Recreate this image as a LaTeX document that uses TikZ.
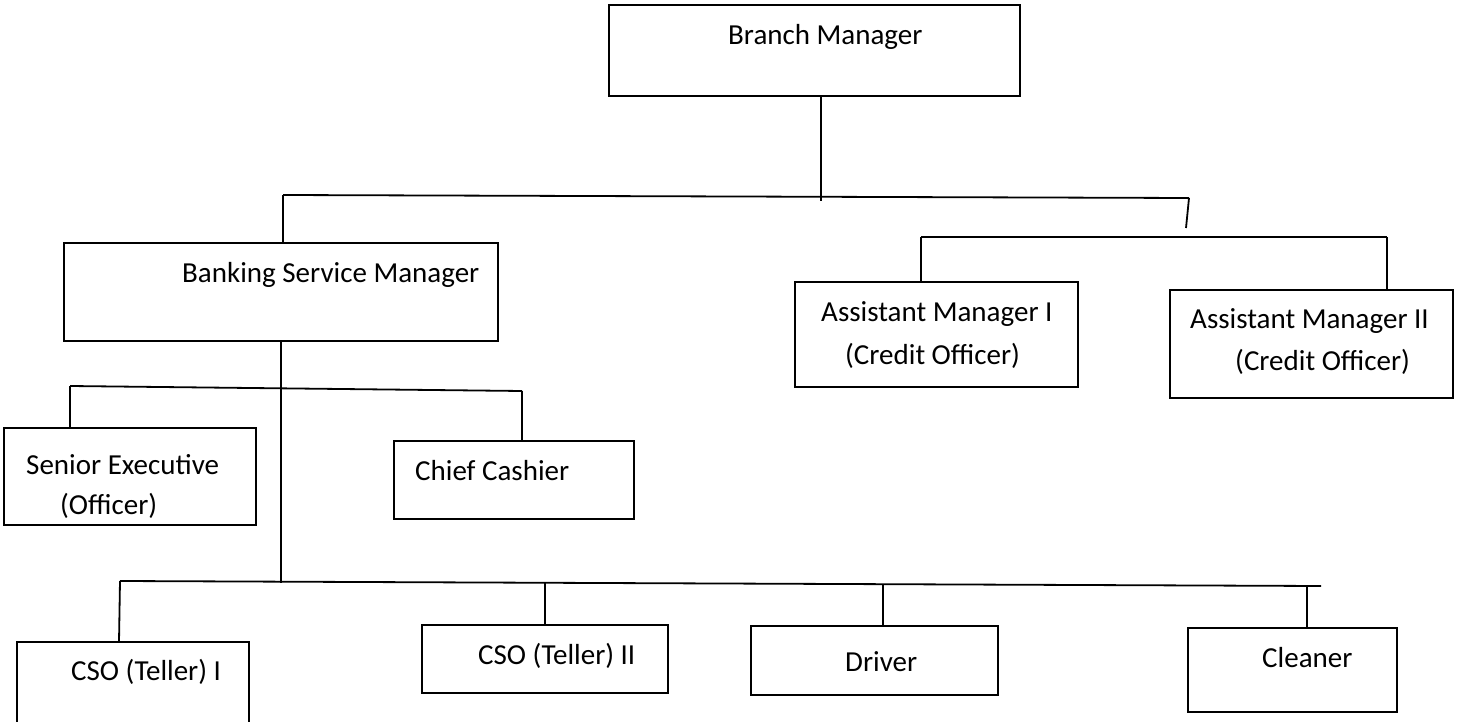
\documentclass[tikz,border=0pt]{standalone}
\usepackage{fontspec}
\setmainfont{Carlito}

\begin{document}
\begin{tikzpicture}[x=1pt, y=-1pt,
    box/.style={draw, line width=2pt, inner sep=0, outer sep=0},
    lbl/.style={anchor=base west, inner sep=0, font=\fontsize{29}{35}\selectfont},
    wire/.style={line width=1.8pt}]
    \useasboundingbox (0,0) rectangle (1459,722);

    % Branch Manager
    \node[box, minimum width=411pt, minimum height=91pt] (bm) at (814.5,50.5) {};
    \node[lbl] (bmtxt) at (728,45) {Branch Manager};

    % Banking Service Manager
    \node[box, minimum width=434pt, minimum height=98pt] (bsm) at (281,292) {};
    \node[lbl] (bsmtxt) at (182,282) {Banking Service Manager};

    % Assistant Managers
    \node[box, minimum width=283pt, minimum height=105pt] (ami) at (936.5,334.5) {};
    \node[lbl] (amitxtA) at (821,321) {Assistant Manager I};
    \node[lbl] (amitxtB) at (845,364) {(Credit Officer)};
    \node[box, minimum width=283pt, minimum height=108pt] (amii) at (1311.5,344) {};
    \node[lbl] (amiitxtA) at (1190,328) {Assistant Manager II};
    \node[lbl] (amiitxtB) at (1235,370) {(Credit Officer)};

    % Senior Executive / Chief Cashier
    \node[box, minimum width=252pt, minimum height=97pt] (se) at (130,476.5) {};
    \node[lbl] (setxtA) at (26,474) {Senior Executive};
    \node[lbl] (setxtB) at (60,514) {(Officer)};
    \node[box, minimum width=240pt, minimum height=78pt] (cc) at (514,480) {};
    \node[lbl] (cctxt) at (415,480) {Chief Cashier};

    % Bottom row
    \node[box, minimum width=232pt, minimum height=90pt] (csoi) at (133,687) {};
    \node[lbl] (csoitxt) at (71,680) {CSO (Teller) I};
    \node[box, minimum width=246pt, minimum height=68pt] (csoii) at (545,659) {};
    \node[lbl] (csoiitxt) at (478,664) {CSO (Teller) II};
    \node[box, minimum width=247pt, minimum height=69pt] (drv) at (874.5,660.5) {};
    \node[lbl] (drvtxt) at (845,671) {Driver};
    \node[box, minimum width=209pt, minimum height=84pt] (cln) at (1292.5,670) {};
    \node[lbl] (clntxt) at (1262,667) {Cleaner};

    % Bus coordinates
    \coordinate (busA-w) at (283,195);
    \coordinate (busA-e) at (1189,198);
    \coordinate (bmdrop) at (821,201);
    \coordinate (tickend) at (1186,228);
    \coordinate (busB-w) at (921,237);
    \coordinate (busB-e) at (1387,237);
    \coordinate (bsmdrop) at (281,583);
    \coordinate (busC-w) at (70,386);
    \coordinate (busC-e) at (522,391);
    \coordinate (busD-w) at (120,581);
    \coordinate (busD-e) at (1321,586);
    \coordinate (csoiidrop) at (545,583);
    \coordinate (drvdrop) at (883,584.5);
    \coordinate (clndrop) at (1307,586);

    % Draw connectors
    \draw[wire] (bmdrop |- bm.south) -- (bmdrop);
    \draw[wire] (busA-w) -- (busA-e);
    \draw[wire] (busA-w) -- (busA-w |- bsm.north);
    \draw[wire] (busA-e) -- (tickend);

    \draw[wire] (busB-w) -- (busB-e);
    \draw[wire] (busB-w) -- (busB-w |- ami.north);
    \draw[wire] (busB-e) -- (busB-e |- amii.north);

    \draw[wire] (bsmdrop |- bsm.south) -- (bsmdrop);
    \draw[wire] (busC-w) -- (busC-e);
    \draw[wire] (busC-w) -- (busC-w |- se.north);
    \draw[wire] (busC-e) -- (busC-e |- cc.north);

    \draw[wire] (busD-w) -- (busD-e);
    \draw[wire] (busD-w) -- ([xshift=-1pt]busD-w |- csoi.north);
    \draw[wire] (csoiidrop) -- (csoiidrop |- csoii.north);
    \draw[wire] (drvdrop) -- (drvdrop |- drv.north);
    \draw[wire] (clndrop) -- (clndrop |- cln.north);
  \end{tikzpicture}
\end{document}
